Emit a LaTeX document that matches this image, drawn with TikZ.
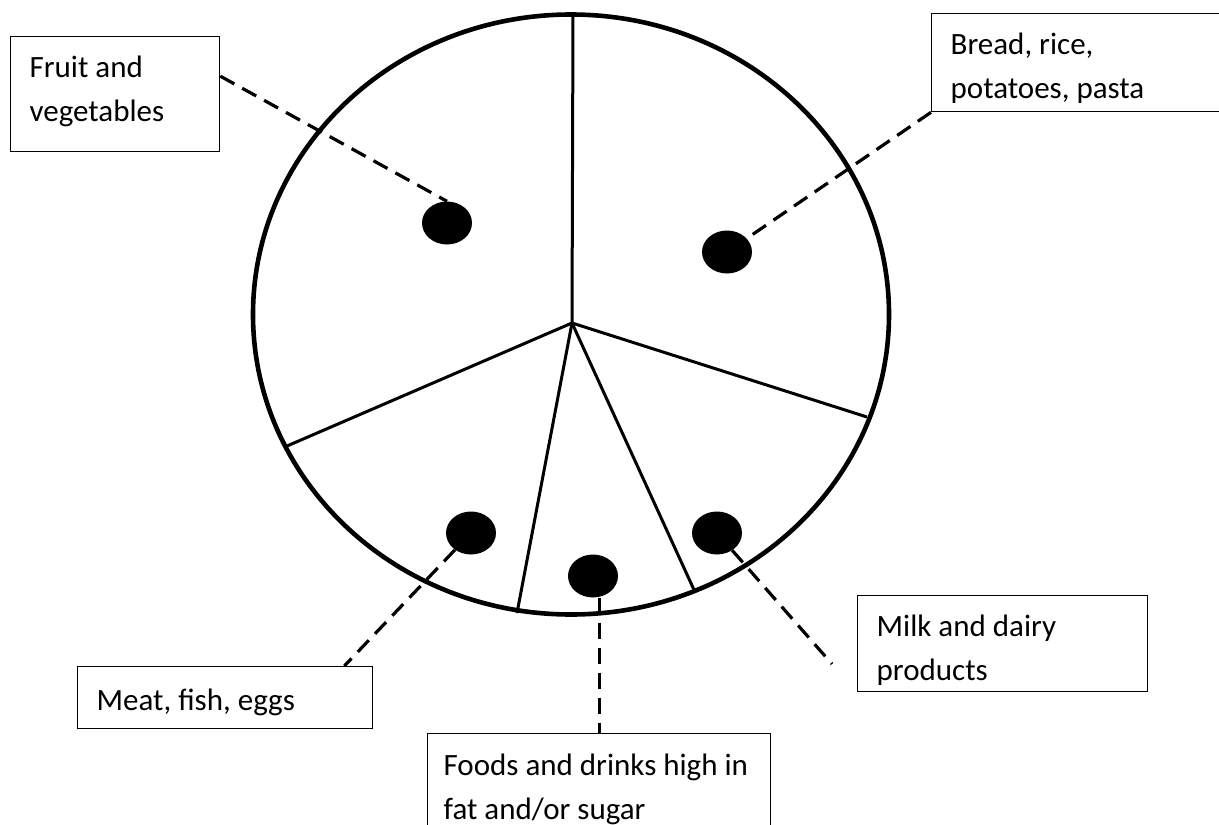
\documentclass[tikz,border=0pt]{standalone}
\usepackage{fontspec}
\setmainfont{Carlito}
\usepackage{tikz}
\usetikzlibrary{shapes.geometric}

\begin{document}
\begin{tikzpicture}[
  x=1pt, y=-1pt,
  box/.style={draw, line width=1.3pt, anchor=north west, align=flush left,
              inner xsep=19pt, inner ysep=0pt,
              font=\fontsize{31}{43.5}\selectfont},
  dot/.style={ellipse, fill=black, minimum width=50pt, minimum height=43pt,
              inner sep=0pt},
  leader/.style={dash pattern=on 16pt off 9pt, line width=3.2pt},
  spoke/.style={line width=3pt},
  rim/.style={line width=4.6pt}
]
\useasboundingbox (0,0) rectangle (1219,825);
\clip (0,0) rectangle (1219,825);

% plate and its slices
\draw[rim] (571,314.5) ellipse [x radius=318pt, y radius=300pt];
\coordinate (hub) at (572,323);
\foreach \p in {(573,15),(287,446),(867,417),(517,613),(695,592)}
  \draw[spoke] (hub) -- \p;

% one dot per slice
\node[dot] (fruitdot) at (447,223) {};
\node[dot] (breaddot) at (727,252) {};
\node[dot] (meatdot)  at (471,533) {};
\node[dot] (foodsdot) at (593,576) {};
\node[dot] (milkdot)  at (717,533) {};

% labels
\node[box, text width=171pt, text height=41pt, text depth=74pt] (fruit) at (10,36)
  {Fruit and\\ vegetables};
\node[box, text width=261pt, text height=41.5pt, text depth=57pt] (bread) at (931,12.5)
  {Bread, rice,\\ potatoes, pasta};
\node[box, text width=257pt, text height=44pt, text depth=18pt] (meat) at (77,666)
  {Meat, fish, eggs};
\node[box, text width=252pt, text height=41pt, text depth=55pt] (milk) at (857,595)
  {Milk and dairy\\ products};
\node[box, inner xsep=16pt, text width=311pt, text height=42pt, text depth=75pt] (foods) at (427,733)
  {Foods and drinks high in\\ fat and/or sugar};

% leader lines
\draw[leader] ([yshift=18pt]fruit.east) -- (fruitdot.north);
\draw[leader] (bread.south west) -- (breaddot);
\draw[leader] (meatdot) -- ([xshift=-29pt]meat.north east);
\draw[leader] (foodsdot.south -| foods.north) -- (foods.north);
\coordinate (milkend) at (832,664);
\draw[leader] (milkdot) -- (milkend);
\end{tikzpicture}
\end{document}
